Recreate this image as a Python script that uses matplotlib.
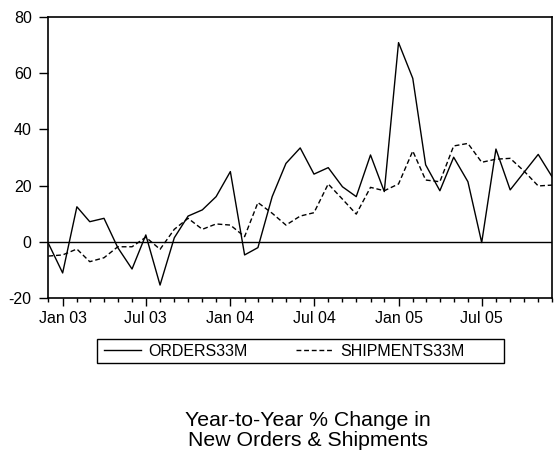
import matplotlib
matplotlib.use("Agg")
import matplotlib.pyplot as plt
import matplotlib.dates as mdates
from matplotlib.patches import Rectangle
import pandas as pd

plt.rcParams['font.family'] = ['Liberation Sans', 'DejaVu Sans']
plt.rcParams['axes.unicode_minus'] = False

start_month = "2002-12-01"
orders = [-0.5, -11.0, 12.5, 7.2, 8.4, -2.0, -9.6, 2.5, -15.3, 1.5,
          9.2, 11.4, 16.1, 25.0, -4.6, -2.0, 16.1, 27.9, 33.4, 24.1,
          26.4, 19.6, 16.1, 30.9, 17.9, 70.8, 58.1, 27.4, 18.2, 30.1,
          21.4, -0.2, 33.0, 18.5, 24.7, 31.1, 23.2]
shipments = [-5.0, -4.6, -2.5, -7.0, -5.6, -1.7, -1.7, 1.7, -2.6, 4.5,
             8.4, 4.5, 6.4, 6.0, 1.9, 14.0, 10.2, 6.0, 9.2, 10.4,
             20.6, 15.2, 9.9, 19.4, 18.2, 20.6, 32.3, 22.0, 21.4, 34.1,
             35.0, 28.3, 29.4, 29.7, 25.2, 19.9, 20.2]
yticks = [-20, 0, 20, 40, 60, 80]

months = pd.date_range(start_month, periods=len(orders), freq="MS")

W, H = 554, 457
fig = plt.figure(figsize=(W / 100, H / 100), dpi=100)
ax = fig.add_axes([48.4 / W, 1 - 298.3 / H, (552 - 48.4) / W, (298.3 - 16.7) / H])

ax.plot(months, orders, color="black", lw=1.0, label="ORDERS33M")
ax.plot(months, shipments, color="black", lw=1.0, linestyle=(0, (3.5, 2)),
        label="SHIPMENTS33M")
ax.axhline(0, color="black", lw=1.0)

ax.set_xlim(months[0], months[-1])
ax.set_ylim(-20, 80)
ax.set_yticks(yticks)

ax.xaxis.set_major_locator(mdates.MonthLocator(bymonth=[1, 7]))
ax.xaxis.set_major_formatter(mdates.DateFormatter("%b %y"))
ax.xaxis.set_minor_locator(mdates.MonthLocator())

ax.tick_params(axis="x", which="major", length=6, width=1, pad=3, labelsize=11.5)
ax.tick_params(axis="x", which="minor", length=3, width=1)
ax.tick_params(axis="y", length=6.5, width=1, pad=5.5, labelsize=11.5)
for s in ax.spines.values():
    s.set_linewidth(1.2)

# legend
handles, labels = ax.get_legend_handles_labels()
fig.legend(handles, labels, loc="center left",
           bbox_to_anchor=(104 / W, 1 - 351 / H), ncol=2, frameon=False,
           fontsize=11.5, handlelength=2.3, handletextpad=0.5,
           columnspacing=3.0, borderpad=0, borderaxespad=0)
fig.patches.append(Rectangle((97.3 / W, 1 - 362.7 / H), (504 - 97.3) / W,
                             (362.7 - 339.3) / H, transform=fig.transFigure,
                             fill=False, edgecolor="black", lw=1.0))

fig.text(308 / W, 1 - 430.5 / H, "Year-to-Year % Change in\nNew Orders & Shipments",
         ha="center", va="center", fontsize=15.3, linespacing=1.05)

fig.savefig("out.png", dpi=100)
